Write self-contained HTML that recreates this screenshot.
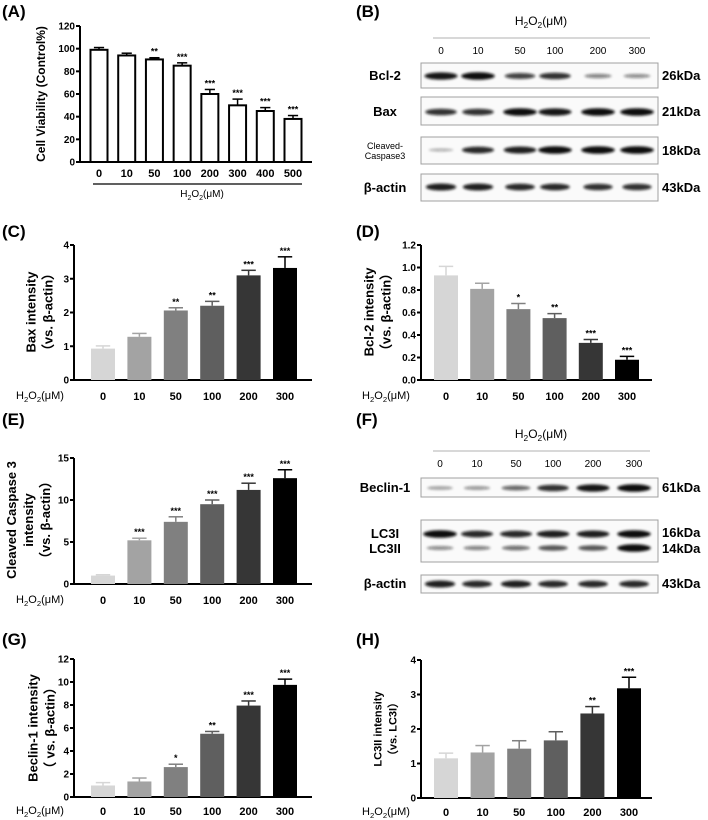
<!DOCTYPE html>
<html><head><meta charset="utf-8"><style>
html,body{margin:0;padding:0;background:#fff;}
svg{display:block;font-family:"Liberation Sans",Arial,sans-serif;}
.tk{font-size:10px;font-weight:bold;}
.cat{font-size:11px;font-weight:bold;}
.pl{font-size:17px;font-weight:bold;}
.st{font-size:9px;font-weight:bold;}
</style></head><body>
<svg id="fig" width="708" height="820" viewBox="0 0 708 820">
<defs><filter id="blur" x="-30%" y="-100%" width="160%" height="300%"><feGaussianBlur stdDeviation="1.2"/></filter></defs>
<g id="root"></g>
</svg>
<script>
// ---------- data ----------
const catsA = ["0","10","50","100","200","300","400","500"];
const valsA = [99,94,90.5,85,60,50,45,38];
const errA  = [2,2,1.5,2.5,4,5.5,3,3];
const starsA = ["","","**","***","***","***","***","***"];
const ticksA = [0,20,40,60,80,100,120];

const catsC = ["0","10","50","100","200","300"];
const valsC = [0.93,1.28,2.06,2.2,3.1,3.32];
const errC  = [0.08,0.1,0.08,0.13,0.15,0.33];
const starsC = ["","","**","**","***","***"];
const ticksC = [0,1,2,3,4];

const valsD = [0.93,0.81,0.63,0.55,0.33,0.18];
const errD  = [0.08,0.05,0.05,0.04,0.03,0.03];
const starsD = ["","","*","**","***","***"];
const ticksD = ["0.0","0.2","0.4","0.6","0.8","1.0","1.2"];

const valsE = [1.0,5.2,7.4,9.5,11.2,12.6];
const errE  = [0.1,0.25,0.6,0.5,0.8,1.0];
const starsE = ["","***","***","***","***","***"];
const ticksE = [0,5,10,15];

const valsG = [1.0,1.35,2.6,5.5,7.95,9.75];
const errG  = [0.25,0.3,0.25,0.2,0.4,0.5];
const starsG = ["","","*","**","***","***"];
const ticksG = [0,2,4,6,8,10,12];

const valsH = [1.15,1.32,1.43,1.67,2.45,3.18];
const errH  = [0.15,0.2,0.23,0.25,0.2,0.32];
const starsH = ["","","","","**","***"];
const ticksH = [0,1,2,3,4];

const grays = ["#d6d6d6","#a3a3a3","#808080","#5f5f5f","#363636","#000000"];

// blot band intensities (0..1) per lane
const bandBcl2 = [0.95,1,0.7,0.8,0.35,0.3];
const bandBax = [0.8,0.8,1,0.95,1,1];
const bandCasp = [0.1,0.85,0.9,1,1,1];
const bandActB = [0.9,0.9,0.85,0.85,0.8,0.8];
const bandBeclin = [0.2,0.25,0.5,0.8,0.95,1];
const bandLC3I = [1,0.85,0.85,0.9,0.9,1];
const bandLC3II = [0.3,0.35,0.45,0.6,0.6,1];
const bandActF = [0.9,0.85,0.9,0.85,0.85,0.85];

// ---------- helpers ----------
const NS="http://www.w3.org/2000/svg";
const root=document.getElementById("root");
function mk(tag,attrs,parent,text){const e=document.createElementNS(NS,tag);for(const k in attrs)e.setAttribute(k,attrs[k]);if(text!==undefined)e.textContent=text;(parent||root).appendChild(e);return e;}

function barChart(o){
  const g=mk("g",{});
  
  
  const ymax=o.ymax;
  const sy=v=>o.y0-(v/ymax)*(o.y0-o.ytop);
  const n=o.vals.length;
  const sx=i=>o.c0+i*(o.c1-o.c0)/(n-1);
  const ya=mk("line",{x1:o.ax,y1:o.ytop,x2:o.ax,y2:o.y0+1,stroke:"#000","stroke-width":2},g);
  
  
  const xa=mk("line",{x1:o.ax-1,y1:o.y0,x2:o.xend,y2:o.y0,stroke:"#000","stroke-width":2},g);
  
  
  o.ticks.forEach(t=>{
    const v=parseFloat(t);const y=sy(v);
    mk("line",{x1:o.ax-4,y1:y,x2:o.ax,y2:y,stroke:"#000","stroke-width":2},g);
    const tl=mk("text",{x:o.ax-5,y:y+3.5,"text-anchor":"end",class:"tk"},g,String(t));
    
    
  });
  o.vals.forEach((v,i)=>{
    const x=sx(i),w=o.bw,y=sy(v);
    const col=o.white?"#fff":grays[i];
    const r=mk("rect",{x:x-w/2,y:y,width:w,height:o.y0-y,fill:col,stroke:o.white?"#000":"none","stroke-width":o.white?2:0},g);
    
    
    const ye=sy(v+o.err[i]);
    const ec=o.white?"#000":grays[i];
    mk("line",{x1:x,y1:y,x2:x,y2:ye,stroke:ec,"stroke-width":1.5},g);
    mk("line",{x1:x-o.bw*0.3,y1:ye,x2:x+o.bw*0.3,y2:ye,stroke:ec,"stroke-width":1.5},g);
    if(o.stars[i]){const s=mk("text",{x:x,y:ye-3,"text-anchor":"middle",class:"st"},g,o.stars[i]);
      
      }
    const c=mk("text",{x:x,y:o.catY,"text-anchor":"middle",class:"cat"},g,o.cats[i]);
    
    
  });
  return g;
}
function label(x,y,t,cls,name,anchor){const e=mk("text",{x:x,y:y,class:cls,"text-anchor":anchor||"start"},root,t);return e;}
function h2o2(x,y,size,anchor,bold){const e=mk("text",{x:x,y:y,"font-size":size,"font-weight":bold?"bold":"normal","text-anchor":anchor||"middle"});
  
  
  mk("tspan",{},e,"H");mk("tspan",{"font-size":size*0.7,dy:3},e,"2");mk("tspan",{dy:-3},e,"O");mk("tspan",{"font-size":size*0.7,dy:3},e,"2");mk("tspan",{dy:-3},e,"(μM)");return e;}
function ytitle(cx,cy,lines,size,gap){const e=mk("text",{transform:`translate(${cx},${cy}) rotate(-90)`,"text-anchor":"middle","font-size":size,"font-weight":"bold"});
  
  
  lines.forEach((l,i)=>mk("tspan",{x:0,y:(i-(lines.length-1)/2)*gap},e,l));}

// ---------- panel labels ----------
[["(A)",2,17],["(B)",356,17],["(C)",2,237],["(D)",356,237],["(E)",2,425],["(F)",356,425],["(G)",2,645],["(H)",356,645]].forEach(p=>label(p[1],p[2],p[0],"pl","panel-label"));

// ---------- A ----------
barChart({name:"chart-a-cell-viability",vals:valsA,err:errA,stars:starsA,cats:catsA,ticks:ticksA,ymax:120,ax:80,ytop:26,y0:162,xend:312,c0:99,c1:293,bw:17,white:true,catY:177});
mk("line",{x1:93,y1:184,x2:302,y2:184,stroke:"#000","stroke-width":1.2});
h2o2(202,197,10,"middle",false);
ytitle(45,94,["Cell Viability (Control%)"],12,14);

// ---------- C ----------
barChart({name:"chart-c-bax",vals:valsC,err:errC,stars:starsC,cats:catsC,ticks:ticksC,ymax:4,ax:74,ytop:245,y0:380,xend:312,c0:103,c1:285,bw:24,catY:400});
h2o2(40,399,11,"middle",false);
ytitle(44,312,["Bax intensity","（vs. β-actin）"],13,17);

// ---------- D ----------
barChart({name:"chart-d-bcl2",vals:valsD,err:errD,stars:starsD,cats:catsC,ticks:ticksD,ymax:1.2,ax:421,ytop:245,y0:380,xend:652,c0:446,c1:627,bw:24,catY:400});
h2o2(386,399,11,"middle",false);
ytitle(382,312,["Bcl-2 intensity","（vs. β-actin）"],13,17);

// ---------- E ----------
barChart({name:"chart-e-cleaved-caspase3",vals:valsE,err:errE,stars:starsE,cats:catsC,ticks:ticksE,ymax:15,ax:74,ytop:458,y0:584,xend:312,c0:103,c1:285,bw:24,catY:604});
h2o2(40,603,11,"middle",false);
ytitle(33,520,["Cleaved Caspase 3","intensity","（vs. β-actin）"],13,17);

// ---------- G ----------
barChart({name:"chart-g-beclin1",vals:valsG,err:errG,stars:starsG,cats:catsC,ticks:ticksG,ymax:12,ax:74,ytop:659,y0:797,xend:312,c0:103,c1:285,bw:24,catY:815});
h2o2(40,814,11,"middle",false);
ytitle(46,728,["Beclin-1 intensity","（ vs. β-actin）"],13,17);

// ---------- H ----------
barChart({name:"chart-h-lc3ii",vals:valsH,err:errH,stars:starsH,cats:catsC,ticks:ticksH,ymax:4,ax:421,ytop:660,y0:798,xend:652,c0:446,c1:629,bw:24,catY:816});
h2o2(386,815,11,"middle",false);
ytitle(389,729,["LC3II intensity","（vs. LC3I）"],11,15);

// ---------- blots ----------
function blot(name,y1,y2,label1,kda,bands,bandY,bw,lanes){
  const g=mk("g",{});
  
  
  mk("rect",{x:421,y:y1,width:237,height:y2-y1,fill:"#fafafa",stroke:"#a0a0a0","stroke-width":1},g);
  bands.forEach((arr,k)=>{arr.forEach((v,i)=>{
    const b=mk("ellipse",{cx:lanes[i],cy:bandY[k],rx:bw*(0.85+0.35*v),ry:1.2+2.6*v,fill:"#111","fill-opacity":0.25+0.75*v,filter:"url(#blur)"},g);
    
    
  });});
  if(label1){label1.forEach((l,i)=>{const t=mk("text",{x:385,y:l[1],"text-anchor":"middle","font-size":l[2]||13,"font-weight":l[2]?"normal":"600"},g,l[0]);});}
  kda.forEach(k=>{const t=mk("text",{x:662,y:k[1],"font-size":13,"font-weight":"600"},g,k[0]);});
}
const lanesB=[441,478,520,555,598,637];
const lanesF=[440,477,516,553,593,634];
const laneTxt=["0","10","50","100","200","300"];
function header(y,lanes){h2o2(541,y,12,"middle",false);mk("line",{x1:433,y1:y+13,x2:650,y2:y+13,stroke:"#ccc","stroke-width":1.5});
  laneTxt.forEach((t,i)=>{const e=mk("text",{x:lanes[i],y:y+29,"text-anchor":"middle","font-size":10},root,t);});}
header(25,lanesB);
blot("blot-bcl2",63,88,[["Bcl-2",80]],[["26kDa",80]],[bandBcl2],[76],14,lanesB);
blot("blot-bax",97,125,[["Bax",116]],[["21kDa",116]],[bandBax],[112],14,lanesB);
blot("blot-cleaved-caspase3",137,164,[["Cleaved-",149,9],["Caspase3",159,9]],[["18kDa",155]],[bandCasp],[150],14,lanesB);
blot("blot-actin-b",174,201,[["β-actin",192]],[["43kDa",192]],[bandActB],[187],13,lanesB);
header(438,lanesF);
blot("blot-beclin1",478,497,[["Beclin-1",492]],[["61kDa",492]],[bandBeclin],[488],14,lanesF);
blot("blot-lc3",520,562,[["LC3I",538],["LC3II",553]],[["16kDa",537],["14kDa",553]],[bandLC3I,bandLC3II],[534,548],14,lanesF);
blot("blot-actin-f",575,593,[["β-actin",588]],[["43kDa",588]],[bandActF],[584],13,lanesF);
</script>
</body></html>
